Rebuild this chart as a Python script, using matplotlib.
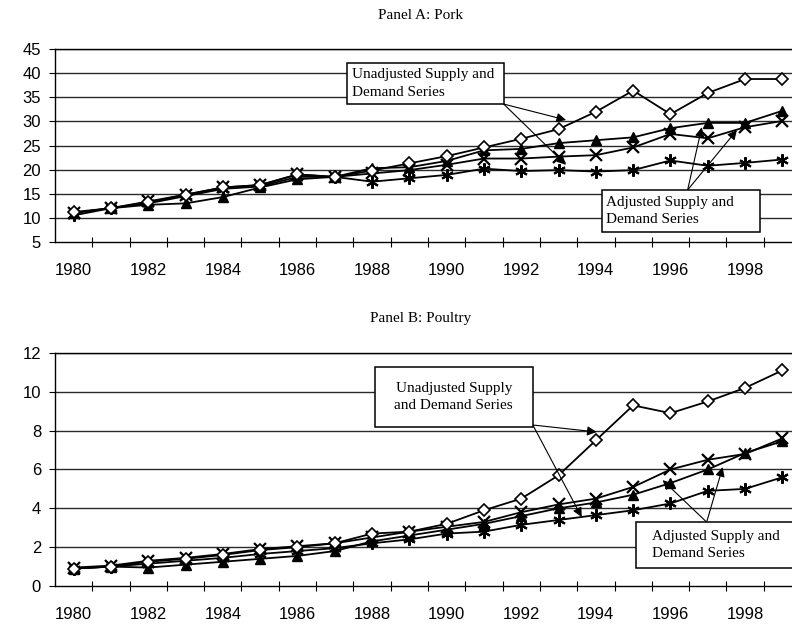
import numpy as np
import matplotlib
matplotlib.use("Agg")
import matplotlib.pyplot as plt
from matplotlib.patches import Rectangle
from matplotlib.ticker import FixedLocator

years = list(range(1980, 2000))
year_labels = [str(y) for y in range(1980, 2000, 2)]

# Panel A: Pork
pork_diamond = [11.2, 12.0, 13.2, 14.8, 16.3, 16.8, 19.0, 18.5, 19.8, 21.3,
                22.8, 24.6, 26.4, 28.4, 32.0, 36.4, 31.5, 35.9, 38.8, 38.8]
pork_triangle = [11.0, 12.0, 12.7, 13.0, 14.3, 16.3, 18.0, 18.5, 20.3, 20.5,
                 21.8, 24.0, 24.3, 25.5, 26.1, 26.7, 28.6, 29.7, 29.7, 32.2]
pork_x = [11.0, 12.0, 13.4, 14.8, 16.3, 16.8, 19.0, 18.5, 19.2, 19.9,
          21.0, 22.3, 22.3, 22.7, 23.0, 24.6, 27.4, 26.5, 28.8, 30.1]
pork_star = [10.5, 12.0, 13.0, 14.5, 16.0, 16.5, 18.5, 18.5, 17.5, 18.2,
             18.9, 20.2, 19.7, 19.9, 19.6, 19.9, 21.9, 20.8, 21.4, 22.1]

# Panel B: Poultry
poultry_diamond = [0.9, 1.0, 1.25, 1.4, 1.6, 1.85, 2.0, 2.2, 2.7, 2.8,
                   3.2, 3.9, 4.5, 5.7, 7.5, 9.3, 8.9, 9.5, 10.2, 11.1]
poultry_triangle = [0.9, 1.0, 0.95, 1.1, 1.25, 1.4, 1.55, 1.8, 2.3, 2.6,
                    2.9, 3.2, 3.6, 4.0, 4.3, 4.7, 5.3, 6.0, 6.85, 7.45]
poultry_x = [0.95, 1.05, 1.3, 1.45, 1.65, 1.9, 2.05, 2.2, 2.5, 2.8,
             3.05, 3.3, 3.8, 4.2, 4.5, 5.1, 6.0, 6.5, 6.8, 7.6]
poultry_star = [0.9, 1.0, 1.15, 1.3, 1.45, 1.65, 1.8, 1.95, 2.2, 2.4,
                2.7, 2.8, 3.15, 3.4, 3.65, 3.9, 4.25, 4.9, 5.0, 5.6]

serif = "Liberation Serif"
sans = "Liberation Sans"


def draw_panel(ax, series, ylim, ystep, title):
    idx = np.arange(len(years))
    d, t, x, s = series
    ax.plot(idx, s, color="black", lw=1.3, marker=(6, 2, 0), ms=9, mew=1.5, zorder=3)
    ax.plot(idx, x, color="black", lw=1.3, marker="x", ms=8, mew=1.6, zorder=3)
    ax.plot(idx, t, color="black", lw=1.3, marker="^", ms=7, mfc="black", zorder=3)
    ax.plot(idx, d, color="black", lw=1.3, marker="D", ms=6.5, mfc="white", mew=1.2, zorder=4)

    ax.set_xlim(-0.5, 19.5)
    ax.set_ylim(*ylim)
    yt = np.arange(ylim[0], ylim[1] + 0.01, ystep)
    ax.set_yticks(yt)
    ax.set_yticklabels([f"{v:g}" for v in yt], fontfamily=sans, fontsize=12)
    for v in yt[1:]:
        ax.axhline(v, color="#2a2a2a", lw=1.0, zorder=1)

    ax.set_xticks(np.arange(0, 20, 2))
    ax.set_xticklabels(year_labels, fontfamily=sans, fontsize=12)
    ax.xaxis.set_minor_locator(FixedLocator(np.arange(0.5, 19.5, 1)))
    ax.tick_params(axis="x", which="major", length=0, pad=15)
    ax.tick_params(axis="x", which="minor", length=7, direction="inout", width=0.8)
    ax.tick_params(axis="y", length=4, width=0.8, pad=6)
    ax.spines["right"].set_visible(False)
    for sp in ("left", "bottom", "top"):
        ax.spines[sp].set_linewidth(1.0)
    ax.set_title(title, fontfamily=serif, fontsize=11, pad=22, x=0.49)


def box(ax, x0, x1, y0, y1, text, tx, ha="left"):
    ax.add_patch(Rectangle((x0, y0), x1 - x0, y1 - y0, fc="white", ec="black",
                           lw=1.1, zorder=6, clip_on=False))
    ax.text(tx, (y0 + y1) / 2, text, ha=ha, va="center", multialignment=ha,
            fontfamily=serif, fontsize=11, zorder=7, linespacing=1.45)


def arrow(ax, start, end):
    ax.annotate("", xy=end, xytext=start, zorder=5,
                arrowprops=dict(arrowstyle="-|>", color="black", lw=0.8,
                                mutation_scale=14, shrinkA=0, shrinkB=0))


fig = plt.figure(figsize=(7.92, 6.3), dpi=100)
ax1 = fig.add_axes([0.0694, 0.616, 0.942, 0.306])
ax2 = fig.add_axes([0.0694, 0.0698, 0.942, 0.370])

draw_panel(ax1, (pork_diamond, pork_triangle, pork_x, pork_star), (5, 45), 5, "Panel A: Pork")
draw_panel(ax2, (poultry_diamond, poultry_triangle, poultry_x, poultry_star), (0, 12), 2, "Panel B: Poultry")

box(ax1, 7.32, 11.53, 33.6, 42.1, "Unadjusted Supply and\nDemand Series", 7.45)
arrow(ax1, (11.53, 33.6), (13.2, 30.3))
arrow(ax1, (11.53, 33.6), (13.2, 21.0))
box(ax1, 14.16, 18.39, 7.07, 15.78, "Adjusted Supply and\nDemand Series", 14.26)
arrow(ax1, (16.46, 15.78), (16.84, 28.8))
arrow(ax1, (16.46, 15.78), (17.78, 28.2))

box(ax2, 8.07, 12.31, 8.19, 11.28, "Unadjusted Supply\nand Demand Series", 10.19, ha="center")
arrow(ax2, (12.31, 8.29), (14.02, 7.93))
arrow(ax2, (12.31, 8.29), (13.62, 3.55))
box(ax2, 15.07, 19.3, 0.92, 3.29, "Adjusted Supply and\nDemand Series", 15.5)
arrow(ax2, (16.97, 3.29), (15.79, 5.45))
arrow(ax2, (16.97, 3.29), (17.4, 6.12))

fig.savefig("out.png", dpi=100)
